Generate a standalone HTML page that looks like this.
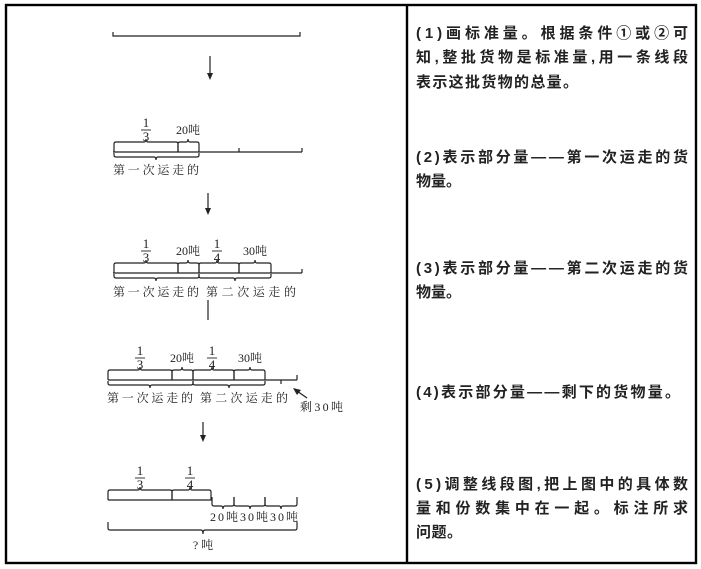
<!DOCTYPE html>
<html><head><meta charset="utf-8"><style>
html,body{margin:0;padding:0;background:#fff;}
svg{display:block;}
.d{font-family:"Liberation Serif","Noto Serif CJK SC",serif;font-size:12px;fill:#222;}
.f{font-family:"Liberation Serif",serif;font-size:13px;fill:#222;}
.r{font-family:"Liberation Sans","Noto Sans CJK SC",sans-serif;font-size:15px;font-weight:bold;fill:#222;}
</style></head><body>
<svg width="701" height="569" viewBox="0 0 701 569" xmlns="http://www.w3.org/2000/svg">
<g fill="none" stroke="#000" stroke-width="2.4">
<rect x="6" y="5" width="690" height="558"/>
<line x1="407" y1="5" x2="407" y2="563"/>
</g>
<g fill="#222" stroke="none">
<polygon points="207,73 213,73 210,80"/>
<polygon points="205,208 211,208 208,215"/>
<polygon points="200,435 206,435 203,442"/>
<polygon points="293,388 301,390 297,395"/>
</g>
<g fill="none" stroke="#222" stroke-width="1.2">
<path d="M113,32 V36 H300 V32"/>
<line x1="210" y1="56" x2="210" y2="74"/>
<line x1="113" y1="152" x2="302" y2="152"/>
<line x1="239" y1="148" x2="239" y2="152"/><line x1="302" y1="148" x2="302" y2="152"/>
<path d="M114,152 V144 Q114,142 116,142 H144 Q146,142 146,139 Q146,142 148,142 H176 Q178,142 178,144 V152"/>
<path d="M178,152 V144 Q178,142 180,142 H186 Q188,142 188,139 Q188,142 190,142 H197 Q199,142 199,144 V152"/>
<path d="M114,153 V155 Q114,157 116,157 H154 Q156,157 156,160 Q156,157 158,157 H197 Q199,157 199,155 V153"/>
<line x1="208" y1="193" x2="208" y2="209"/>
<line x1="113" y1="273" x2="302" y2="273"/><line x1="302" y1="269" x2="302" y2="273"/>
<path d="M114,273 V265 Q114,263 116,263 H144 Q146,263 146,260 Q146,263 148,263 H176 Q178,263 178,265 V273"/>
<path d="M178,273 V265 Q178,263 180,263 H186 Q188,263 188,260 Q188,263 190,263 H197 Q199,263 199,265 V273"/>
<path d="M199,273 V265 Q199,263 201,263 H215 Q217,263 217,260 Q217,263 219,263 H237 Q239,263 239,265 V273"/>
<path d="M239,273 V265 Q239,263 241,263 H253 Q255,263 255,260 Q255,263 257,263 H269 Q271,263 271,265 V273"/>
<path d="M114,274 V276 Q114,278 116,278 H154 Q156,278 156,281 Q156,278 158,278 H197 Q199,278 199,276 V274"/>
<path d="M199,274 V276 Q199,278 201,278 H233 Q235,278 235,281 Q235,278 237,278 H269 Q271,278 271,276 V274"/>
<line x1="208" y1="300" x2="208" y2="320"/>
<line x1="108" y1="380" x2="297" y2="380"/><line x1="297" y1="375" x2="297" y2="380"/><line x1="281" y1="380" x2="281" y2="384"/>
<path d="M108,380 V372 Q108,370 110,370 H138 Q140,370 140,367 Q140,370 142,370 H170 Q172,370 172,372 V380"/>
<path d="M172,380 V372 Q172,370 174,370 H180 Q182,370 182,367 Q182,370 184,370 H191 Q193,370 193,372 V380"/>
<path d="M193,380 V372 Q193,370 195,370 H210 Q212,370 212,367 Q212,370 214,370 H232 Q234,370 234,372 V380"/>
<path d="M234,380 V372 Q234,370 236,370 H248 Q250,370 250,367 Q250,370 252,370 H263 Q265,370 265,372 V380"/>
<path d="M108,381 V383 Q108,385 110,385 H148 Q150,385 150,388 Q150,385 152,385 H191 Q193,385 193,383 V381"/>
<path d="M193,381 V383 Q193,385 195,385 H227 Q229,385 229,388 Q229,385 231,385 H263 Q265,385 265,383 V381"/>
<line x1="307" y1="398" x2="297" y2="391"/>
<line x1="203" y1="422" x2="203" y2="436"/>
<line x1="108" y1="500" x2="212" y2="500"/>
<path d="M108,500 V492 Q108,490 110,490 H138 Q140,490 140,487 Q140,490 142,490 H170 Q172,490 172,492 V500"/>
<path d="M172,500 V492 Q172,490 174,490 H188 Q190,490 190,487 Q190,490 192,490 H209 Q211,490 211,492 V500"/>
<path d="M212,497 V504 Q212,506 214,506 H221 Q223,506 223,509 Q223,506 225,506 H232 Q234,506 234,504 V497"/>
<path d="M234,497 V504 Q234,506 236,506 H248 Q250,506 250,509 Q250,506 252,506 H263 Q265,506 265,504 V497"/>
<path d="M265,497 V504 Q265,506 267,506 H279 Q281,506 281,509 Q281,506 283,506 H295 Q297,506 297,504 V497"/>
<path d="M108,522 V528 Q108,530 110,530 H201 Q203,530 203,534 Q203,530 205,530 H295 Q297,530 297,528 V522"/>
</g>
<g fill="none" stroke="#222" stroke-width="0.9">
<line x1="141" y1="130" x2="151" y2="130"/><line x1="141" y1="251" x2="151" y2="251"/><line x1="212" y1="251" x2="222" y2="251"/>
<line x1="135" y1="358" x2="145" y2="358"/><line x1="207" y1="358" x2="217" y2="358"/>
<line x1="135" y1="478" x2="145" y2="478"/><line x1="185" y1="478" x2="195" y2="478"/>
</g>
<g class="f" text-anchor="middle">
<text x="146" y="127">1</text><text x="146" y="141">3</text>
<text x="146" y="248">1</text><text x="146" y="262">3</text>
<text x="217" y="248">1</text><text x="217" y="262">4</text>
<text x="140" y="355">1</text><text x="140" y="369">3</text>
<text x="212" y="355">1</text><text x="212" y="369">4</text>
<text x="140" y="475">1</text><text x="140" y="489">3</text><text x="190" y="475">1</text><text x="190" y="489">4</text>
</g>
<g class="d" text-anchor="middle">
<text x="188" y="134">20吨</text><text x="188" y="255">20吨</text><text x="255" y="255">30吨</text>
<text x="182" y="362">20吨</text><text x="250" y="362">30吨</text>
<text x="203" y="549">? 吨</text>
</g>
<g class="d">
<text x="113" y="174" textLength="86">第一次运走的</text>
<text x="113" y="296" textLength="86">第一次运走的</text><text x="206" y="296" textLength="90">第二次运走的</text>
<text x="107" y="402" textLength="86">第一次运走的</text><text x="200" y="402" textLength="88">第二次运走的</text>
<text x="300" y="411" textLength="43">剩30吨</text>
<text x="210" y="521" textLength="88">20吨30吨30吨</text>
</g>
<g class="r">
<text x="416" y="38" textLength="272">(1)画标准量。根据条件①或②可</text>
<text x="416" y="62" textLength="272">知,整批货物是标准量,用一条线段</text>
<text x="416" y="87" textLength="162">表示这批货物的总量。</text>
<text x="416" y="162" textLength="272">(2)表示部分量——第一次运走的货</text>
<text x="416" y="186" textLength="45">物量。</text>
<text x="416" y="273" textLength="272">(3)表示部分量——第二次运走的货</text>
<text x="416" y="297" textLength="45">物量。</text>
<text x="416" y="397" textLength="264">(4)表示部分量——剩下的货物量。</text>
<text x="416" y="489" textLength="272">(5)调整线段图,把上图中的具体数</text>
<text x="416" y="513" textLength="272">量和份数集中在一起。标注所求</text>
<text x="416" y="537" textLength="46">问题。</text>
</g>
</svg>
</body></html>
